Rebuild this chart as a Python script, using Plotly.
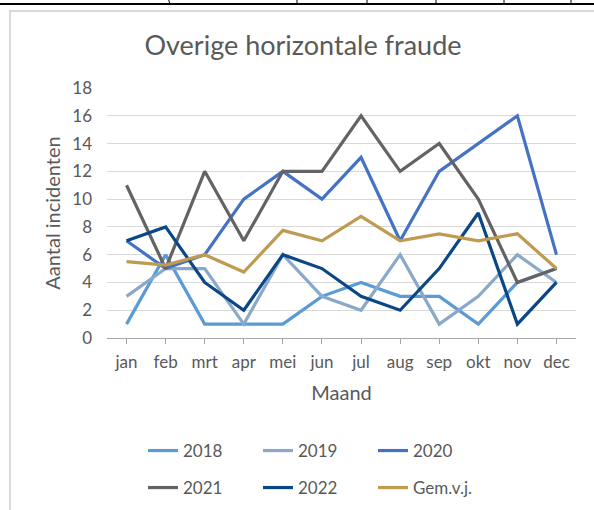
import plotly.graph_objects as go

months = ["jan", "feb", "mrt", "apr", "mei", "jun", "jul", "aug", "sep", "okt", "nov", "dec"]
y2018 = [1, 6, 1, 1, 1, 3, 4, 3, 3, 1, 4, 5]
y2019 = [3, 5, 5, 1, 6, 3, 2, 6, 1, 3, 6, 4]
y2020 = [7, 5, 6, 10, 12, 10, 13, 7, 12, 14, 16, 6]
y2021 = [11, 5, 12, 7, 12, 12, 16, 12, 14, 10, 4, 5]
y2022 = [7, 8, 4, 2, 6, 5, 3, 2, 5, 9, 1, 4]
gem_vj = [5.5, 5.25, 6, 4.75, 7.75, 7, 8.75, 7, 7.5, 7, 7.5, 5]
y_ticks = [0, 2, 4, 6, 8, 10, 12, 14, 16, 18]

W, H = 594, 510
L, R, T, B = 107, 18, 88, 172
PW, PH = W - L - R, H - T - B

def px(x):
    return (x - L) / PW

def py(y):
    return (H - B - y) / PH

FONT = "Lato"
TXT = "#595959"

series = [
    ("2018", y2018, "#5B9BD5", "legend"),
    ("2019", y2019, "#8AA9C9", "legend"),
    ("2020", y2020, "#4472C4", "legend"),
    ("2021", y2021, "#636363", "legend2"),
    ("2022", y2022, "#0B4786", "legend2"),
    ("Gem.v.j.", gem_vj, "#BF9B52", "legend2"),
]

fig = go.Figure()
for name, vals, col, lg in series:
    fig.add_trace(go.Scatter(x=months, y=vals, name=name, mode="lines",
                             line=dict(color=col, width=3.2), legend=lg))

shapes = [
    dict(type="rect", xref="paper", yref="paper", x0=px(10), x1=px(620), y0=py(540), y1=py(11),
         line=dict(color="#D9D9D9", width=2), layer="below"),
    dict(type="line", xref="paper", yref="paper", x0=px(0), x1=px(594), y0=py(4), y1=py(4),
         line=dict(color="#000000", width=2)),
]
for xv in [297, 367, 436, 504, 571]:
    shapes.append(dict(type="line", xref="paper", yref="paper", x0=px(xv), x1=px(xv),
                       y0=py(-2), y1=py(4), line=dict(color="#000000", width=1)))
shapes.append(dict(type="line", xref="paper", yref="paper", x0=px(168), x1=px(170),
                   y0=py(-2), y1=py(4), line=dict(color="#000000", width=1)))

fig.update_layout(
    width=W, height=H,
    margin=dict(l=L, r=R, t=T, b=B, autoexpand=False),
    paper_bgcolor="white", plot_bgcolor="white",
    font=dict(family=FONT, color=TXT),
    title=dict(text="Overige horizontale fraude", x=303 / W, xanchor="center",
               y=1 - 46 / H, yanchor="middle", font=dict(size=27, color=TXT, family=FONT)),
    xaxis=dict(type="category", range=[-0.5, 11.5], showgrid=False, showline=True,
               linecolor="#A6A6A6", linewidth=1, ticks="outside", ticklen=5, tickcolor="#A6A6A6",
               tickfont=dict(size=17, color=TXT), fixedrange=True, automargin=False,
               ticklabelstandoff=4,
               title=dict(text="Maand", font=dict(size=20, color=TXT), standoff=14)),
    yaxis=dict(range=[0, 18], tickvals=y_ticks, showgrid=True, gridcolor="#D9D9D9", gridwidth=1,
               zeroline=False, showline=False, ticks="", tickfont=dict(size=17, color=TXT),
               automargin=False, ticklabelstandoff=14, fixedrange=True,
               title=dict(text="Aantal incidenten", font=dict(size=20, color=TXT), standoff=6)),
    legend=dict(orientation="h", x=px(143), xanchor="left", y=py(451), yanchor="middle",
                entrywidth=70, entrywidthmode="pixels", font=dict(size=17, color=TXT),
                bgcolor="rgba(0,0,0,0)", traceorder="normal"),
    legend2=dict(orientation="h", x=px(143), xanchor="left", y=py(488), yanchor="middle",
                 entrywidth=70, entrywidthmode="pixels", font=dict(size=17, color=TXT),
                 bgcolor="rgba(0,0,0,0)", traceorder="normal"),
    shapes=shapes,
    showlegend=True,
)

fig.write_html("out.html", config={"displayModeBar": False},
               post_script="document.body.style.margin='0';")
